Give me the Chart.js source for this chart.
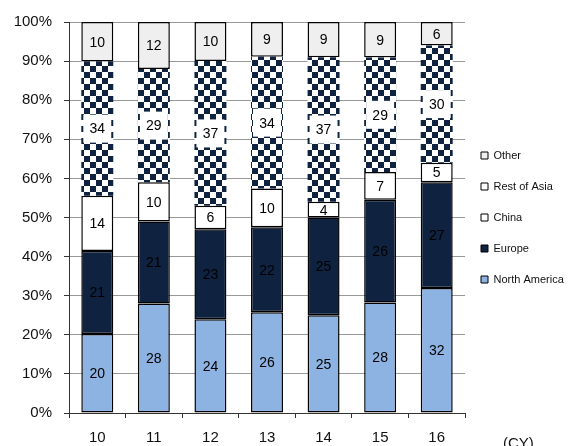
<!DOCTYPE html>
<html>
<head>
<meta charset="utf-8">
<script src="https://cdn.jsdelivr.net/npm/chart.js@4.4.1/dist/chart.umd.min.js"></script>
<style>
  html, body { margin: 0; padding: 0; background: #fff; }
  #wrap { width: 571px; height: 446px; position: relative; }
</style>
</head>
<body>
<div id="wrap"><canvas id="regionChart"></canvas></div>
<script>
// calendar years on the x axis
const years = ["10", "11", "12", "13", "14", "15", "16"];

// share by region (%), as printed on the bars
const northAmerica = [20, 28, 24, 26, 25, 28, 32];
const europe = [21, 21, 23, 22, 25, 26, 27];
const china = [14, 10, 6, 10, 4, 7, 5];
const restOfAsia = [34, 29, 37, 34, 37, 29, 30];
const other = [10, 12, 10, 9, 9, 9, 6];

const NAVY = "#0f2240";
const FONT = "'Liberation Sans', Arial, sans-serif";

// bars are 100% stacked, so rescale every year to a total of 100
const totals = years.map((_, i) =>
  northAmerica[i] + europe[i] + china[i] + restOfAsia[i] + other[i]);
const share = (arr) => arr.map((v, i) => (v / totals[i]) * 100);

// checker fill for Rest of Asia
const checker = (() => {
  const c = document.createElement("canvas");
  c.width = 12;
  c.height = 12;
  const g = c.getContext("2d");
  g.fillStyle = "#fff";
  g.fillRect(0, 0, 12, 12);
  g.fillStyle = NAVY;
  g.fillRect(0, 0, 6, 6);
  g.fillRect(6, 6, 6, 6);
  return g.createPattern(c, "repeat");
})();

const makeSet = (label, raw, fill, legendFill, border, labelBox) => ({
  label: label,
  data: share(raw),
  raw: raw,
  backgroundColor: fill,
  legendFill: legendFill,
  borderColor: "#000",
  borderWidth: border,
  borderSkipped: false,
  labelBox: labelBox,
});

// numbers in the middle of every segment
const segmentLabels = {
  id: "segmentLabels",
  afterLayout(chart) {
    // pull the legend a little closer to the plot
    chart.legend.left -= 4;
  },
  afterDatasetsDraw(chart) {
    const ctx = chart.ctx;
    ctx.save();
    ctx.font = "14px " + FONT;
    ctx.textAlign = "center";
    ctx.textBaseline = "middle";
    chart.data.datasets.forEach((ds, di) => {
      const meta = chart.getDatasetMeta(di);
      meta.data.forEach((bar, i) => {
        const p = bar.getProps(["x", "y", "base", "width"], true);
        const cy = (p.y + p.base) / 2;
        if (ds.labelBox) {
          ctx.fillStyle = "#fff";
          ctx.fillRect(p.x - p.width / 2 + 2, cy - 14, p.width - 4, 28);
        }
        ctx.fillStyle = "#000";
        ctx.fillText(ds.raw[i], p.x, cy + 1);
      });
    });
    // unit note under the right end of the axis
    ctx.font = "15px " + FONT;
    ctx.textAlign = "left";
    ctx.textBaseline = "alphabetic";
    ctx.fillStyle = "#111";
    ctx.fillText("(CY)", 503, 448);
    ctx.restore();
  },
};

const ctx = document.getElementById("regionChart").getContext("2d");
const regionChart = new Chart(ctx, {
  type: "bar",
  data: {
    labels: years,
    datasets: [
      makeSet("North America", northAmerica, "#8db3e2", "#8db3e2", 1.5, false),
      makeSet("Europe", europe, NAVY, NAVY, 1.5, false),
      makeSet("China", china, "#fff", "#fff", 1.5, false),
      makeSet("Rest of Asia", restOfAsia, checker, "#fff", 0, true),
      makeSet("Other", other, "#efefef", "#efefef", 1.5, false),
    ],
  },
  options: {
    responsive: true,
    maintainAspectRatio: false,
    animation: false,
    layout: { padding: { top: 22, right: 0, bottom: 0, left: 0 } },
    datasets: { bar: { barPercentage: 0.565, categoryPercentage: 1 } },
    scales: {
      x: {
        stacked: true,
        grid: { offset: true, drawOnChartArea: false, tickLength: 5, tickColor: "#333" },
        border: { color: "#333", width: 1 },
        ticks: { color: "#111", padding: 11, font: { family: FONT, size: 15 } },
        afterFit: (s) => { s.height = 33; },
      },
      y: {
        stacked: true,
        min: 0,
        max: 100,
        grid: { color: "#999", tickLength: 5, tickColor: "#333" },
        border: { color: "#333", width: 1 },
        ticks: {
          stepSize: 10,
          color: "#111",
          padding: 12,
          font: { family: FONT, size: 15 },
          callback: (v) => v + "%",
        },
        afterFit: (s) => { s.width = 69; },
      },
    },
    plugins: {
      tooltip: { enabled: false },
      legend: {
        position: "right",
        fullSize: false,
        reverse: true,
        maxWidth: 106,
        labels: {
          boxWidth: 7,
          boxHeight: 7,
          padding: 20,
          color: "#111",
          font: { family: FONT, size: 11 },
          generateLabels: (chart) =>
            Chart.defaults.plugins.legend.labels.generateLabels(chart).map((it) => {
              it.fillStyle = chart.data.datasets[it.datasetIndex].legendFill;
              it.strokeStyle = "#000";
              it.lineWidth = 1;
              return it;
            }),
        },
      },
    },
  },
  plugins: [segmentLabels],
});
</script>
</body>
</html>
